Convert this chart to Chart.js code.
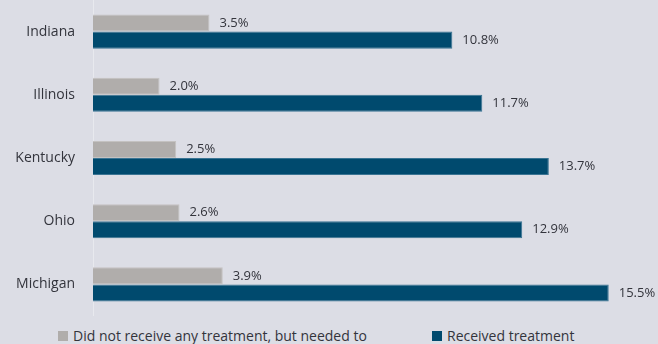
<!DOCTYPE html>
<html>
<head>
<meta charset="utf-8">
<script src="https://cdn.jsdelivr.net/npm/chart.js@4"></script>
<style>
  html, body { margin: 0; padding: 0; background: #dcdde5; }
  #wrap { position: relative; width: 658px; height: 344px; overflow: hidden; }
  #c { position: absolute; left: 0; top: 0; }
  #legend { position: absolute; left: 0; top: 326px; width: 658px; height: 18px;
            font-family: "Open Sans", sans-serif; font-size: 14px; color: #33343c; }
  .item { position: absolute; top: 0; display: flex; align-items: center; white-space: nowrap; }
  .swatch { width: 10px; height: 10px; margin-right: 5px; }
</style>
</head>
<body>
<div id="wrap">
  <canvas id="c" width="658" height="316"></canvas>
  <div id="legend"></div>
</div>
<script>
const states = ['Indiana', 'Illinois', 'Kentucky', 'Ohio', 'Michigan'];
const needed = [3.5, 2.0, 2.5, 2.6, 3.9];
const received = [10.8, 11.7, 13.7, 12.9, 15.5];
const seriesNames = ['Did not receive any treatment, but needed to', 'Received treatment'];

const TEXT = '#33343c';
const GRAY = '#b0adab';
const BLUE = '#004a6e';

// value labels at the end of every bar
const endLabels = {
  id: 'endLabels',
  afterDatasetsDraw(chart) {
    const ctx = chart.ctx;
    ctx.save();
    ctx.font = '13px "Open Sans", sans-serif';
    ctx.fillStyle = TEXT;
    ctx.textAlign = 'left';
    ctx.textBaseline = 'middle';
    chart.data.datasets.forEach((ds, di) => {
      const meta = chart.getDatasetMeta(di);
      meta.data.forEach((bar, i) => {
        ctx.fillText(ds.data[i].toFixed(1) + '%', bar.x + 10, bar.y);
      });
    });
    ctx.restore();
  }
};

const chart = new Chart(document.getElementById('c'), {
  type: 'bar',
  data: {
    labels: states,
    datasets: [
      { label: seriesNames[0], data: needed, backgroundColor: GRAY,
        borderColor: '#c4c2c1', borderWidth: 1, borderSkipped: 'start' },
      { label: seriesNames[1], data: received, backgroundColor: BLUE,
        borderColor: '#3a7493', borderWidth: 1, borderSkipped: 'start' }
    ]
  },
  options: {
    indexAxis: 'y',
    responsive: false,
    animation: false,
    layout: { padding: { left: 0, right: 16, top: 0, bottom: 0 } },
    categoryPercentage: 0.54,
    barPercentage: 1.0,
    scales: {
      x: { display: false, min: 0, max: 16.5 },
      y: {
        grid: { display: false, drawTicks: false },
        border: { display: true, color: 'rgba(255,255,255,0.35)', width: 1 },
        ticks: { padding: 18, color: TEXT, font: { family: '"Open Sans", sans-serif', size: 14 } },
        afterFit(scale) {
          scale.width = 93;
          scale.paddingTop = 0;
          scale.paddingBottom = 0;
        }
      }
    },
    plugins: {
      legend: { display: false },
      tooltip: { enabled: false }
    }
  },
  plugins: [endLabels]
});

// legend under the plot
const legendEl = document.getElementById('legend');
const legendLeft = [58, 432];
chart.data.datasets.forEach((ds, i) => {
  const item = document.createElement('div');
  item.className = 'item';
  item.style.left = legendLeft[i] + 'px';
  const sw = document.createElement('span');
  sw.className = 'swatch';
  sw.style.background = ds.backgroundColor;
  const tx = document.createElement('span');
  tx.textContent = ds.label;
  item.appendChild(sw);
  item.appendChild(tx);
  legendEl.appendChild(item);
});
</script>
</body>
</html>
